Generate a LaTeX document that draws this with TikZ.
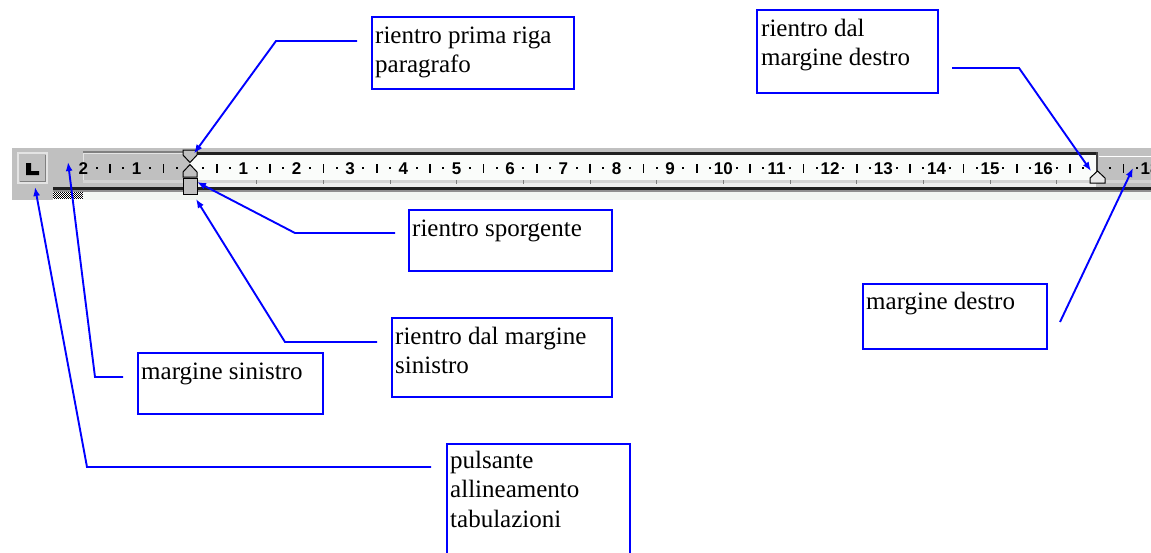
\documentclass[tikz,border=0pt]{standalone}
\usepackage{fontspec}
\setmainfont{Liberation Serif}
\newfontfamily\rulerfont{Liberation Sans}
\usetikzlibrary{arrows.meta,calc}
\definecolor{calloutblue}{HTML}{0000FF}
\definecolor{rulergray}{HTML}{C0C0C0}
\definecolor{rulerwhite}{HTML}{FAFCFA}
\definecolor{paperlight}{HTML}{F2F6F2}
\definecolor{darkline}{HTML}{202020}
\definecolor{midgray}{HTML}{808080}
\definecolor{lightgray}{HTML}{E4E4E4}
\definecolor{stripgray}{HTML}{D4D4D4}
\definecolor{stripwhite}{HTML}{EEEEEE}
\definecolor{shadegray}{HTML}{909090}
\definecolor{edgegray}{HTML}{404040}
\definecolor{markfill}{HTML}{E8E8E8}
\tikzset{
  callout/.style={draw=calloutblue, line width=1.9pt, inner sep=0pt, anchor=north west},
  boxtext/.style={anchor=north west, inner sep=0pt, align=left, font=\fontsize{25}{29.5}\selectfont},
  conn/.style={calloutblue, line width=1.9pt, -{Latex[length=9pt,width=7pt]}},
  rnum/.style={inner sep=0pt, font=\rulerfont\bfseries\fontsize{17}{17}\selectfont},
  marker/.style={fill=rulergray, draw=black, line width=1pt},
}
\begin{document}
\begin{tikzpicture}[x=1pt,y=-1pt]
\useasboundingbox (0,0) rectangle (1151,552);
\clip (0,0) rectangle (1151,552);
\fill[white] (0,0) rectangle (1151,552);

% ---------- ruler ----------
\fill[rulergray] (12,148) rectangle (1151,191);
\fill[rulergray] (12,191) rectangle (53,200);
\fill[paperlight] (83,191) rectangle (1151,200);
\fill[white] (53,191) rectangle (83,199);
\foreach \i in {0,...,14}{\foreach \j in {0,...,3}{
  \fill[black] (53+2*\i,191+2*\j) rectangle ++(1,1);
  \fill[black] (54+2*\i,192+2*\j) rectangle ++(1,1);}}

% alignment button
\fill[lightgray] (17,152) rectangle (48,184);
\fill[rulergray] (19,154) rectangle (46,182);
\draw[midgray] (19.5,181.5) -- (45.5,181.5) -- (45.5,154.5);
\fill[black] (26,163) -- (31,163) -- (31,171) -- (39,171) -- (39,175) -- (26,175) -- cycle;

% ruler frame
\fill[rulergray] (83,151) rectangle (1151,187);
\fill[midgray] (83,151) rectangle (190,153);
\fill[darkline] (190,152) rectangle (1096,155);
\draw[lightgray] (83.5,180) -- (83.5,153.5) -- (190,153.5);
\fill[rulerwhite] (190,155) rectangle (1096,180);
\fill[stripgray] (83,180) rectangle (1151,183);
\fill[stripwhite] (190,183) rectangle (1096,186.5);
\foreach \k in {1,...,13}
  \draw[midgray, line width=1pt] (190+66.667*\k,180) -- ++(0,4);
\fill[darkline] (53,186.5) rectangle (1151,190);
\fill[shadegray] (53,190) rectangle (1151,191.5);
\draw[edgegray, line width=1.5pt] (1097,152) -- (1097,181);
\draw[white] (1099,156) -- (1151,156);

% numbers, dots and bars
\foreach \k/\lab in {-2/2,-1/1,1/1,2/2,3/3,4/4,5/5,6/6,7/7,8/8,9/9,10/10,11/11,12/12,13/13,14/14,15/15,16/16,18/18}
  \node[rnum] (n\k) at (190+53.333*\k,168.5) {\lab};
\foreach \k in {-2,...,17}{
  \fill[black] (190+53.333*\k+12.333,167) rectangle ++(2,2);
  \fill[black] (190+53.333*\k+25.9,163.5) rectangle ++(1.8,9);
  \fill[black] (190+53.333*\k+39,167) rectangle ++(2,2);}

% indent markers
\filldraw[marker] (183,150) -- (197,150) -- (197,155) -- (190,162.5) -- (183,155) -- cycle;
\filldraw[marker] (190,164.5) -- (197,172) -- (197,177) -- (183,177) -- (183,172) -- cycle;
\filldraw[marker] (183,178.5) rectangle (197,194);
\filldraw[fill=markfill, draw=black, line width=1pt] (1097.5,171) -- (1105,178) -- (1105,183) -- (1090,183) -- (1090,178) -- cycle;

% ---------- boxes ----------
\node[callout, minimum width=202pt, minimum height=72pt] (b1) at (371,16) {};
\node[boxtext] (t1) at ($(b1.north west)+(4,6.3)$) {\strut rientro prima riga\\paragrafo};

\node[callout, minimum width=181pt, minimum height=83pt] (b2) at (756,9) {};
\node[boxtext] (t2) at ($(b2.north west)+(5,6.3)$) {\strut rientro dal\\margine destro};

\node[callout, minimum width=203pt, minimum height=61pt] (b3) at (408,209) {};
\node[boxtext] (t3) at ($(b3.north west)+(4,6.3)$) {\strut rientro sporgente};

\node[callout, minimum width=220pt, minimum height=79pt] (b4) at (391,317) {};
\node[boxtext] (t4) at ($(b4.north west)+(4,6.3)$) {\strut rientro dal margine\\sinistro};

\node[callout, minimum width=184pt, minimum height=65pt] (b5) at (862,283) {};
\node[boxtext] (t5) at ($(b5.north west)+(4,5.3)$) {\strut margine destro};

\node[callout, minimum width=185pt, minimum height=61pt] (b6) at (137,352) {};
\node[boxtext] (t6) at ($(b6.north west)+(4,6.3)$) {\strut margine sinistro};

\node[callout, minimum width=183pt, minimum height=130pt] (b7) at (446,443) {};
\node[boxtext] (t7) at ($(b7.north west)+(4,4.5)$) {\strut pulsante\\allineamento\\tabulazioni};

% ---------- connectors ----------
\coordinate (s1) at (357,41);   \coordinate (k1) at (276,41);   \coordinate (e1) at (194,153.5);
\coordinate (s2) at (952,68);   \coordinate (k2) at (1019,68);  \coordinate (e2) at (1091,171);
\coordinate (s3) at (395,233);  \coordinate (k3) at (295,233);  \coordinate (e3) at (197,182);
\coordinate (s4) at (377,342);  \coordinate (k4) at (285,342);  \coordinate (e4) at (196,199);
\coordinate (s5) at (1060,322); \coordinate (e5) at (1133,168);
\coordinate (s6) at (123,377);  \coordinate (k6) at (95,377);   \coordinate (e6) at (68,162);
\coordinate (s7) at (431,467);  \coordinate (k7) at (87,467);   \coordinate (e7) at (35,187);

\draw[conn] (s1) -- (k1) -- (e1);
\draw[conn] (s2) -- (k2) -- (e2);
\draw[conn] (s3) -- (k3) -- (e3);
\draw[conn] (s4) -- (k4) -- (e4);
\draw[conn] (s5) -- (e5);
\draw[conn] (s6) -- (k6) -- (e6);
\draw[conn] (s7) -- (k7) -- (e7);
\end{tikzpicture}
\end{document}
